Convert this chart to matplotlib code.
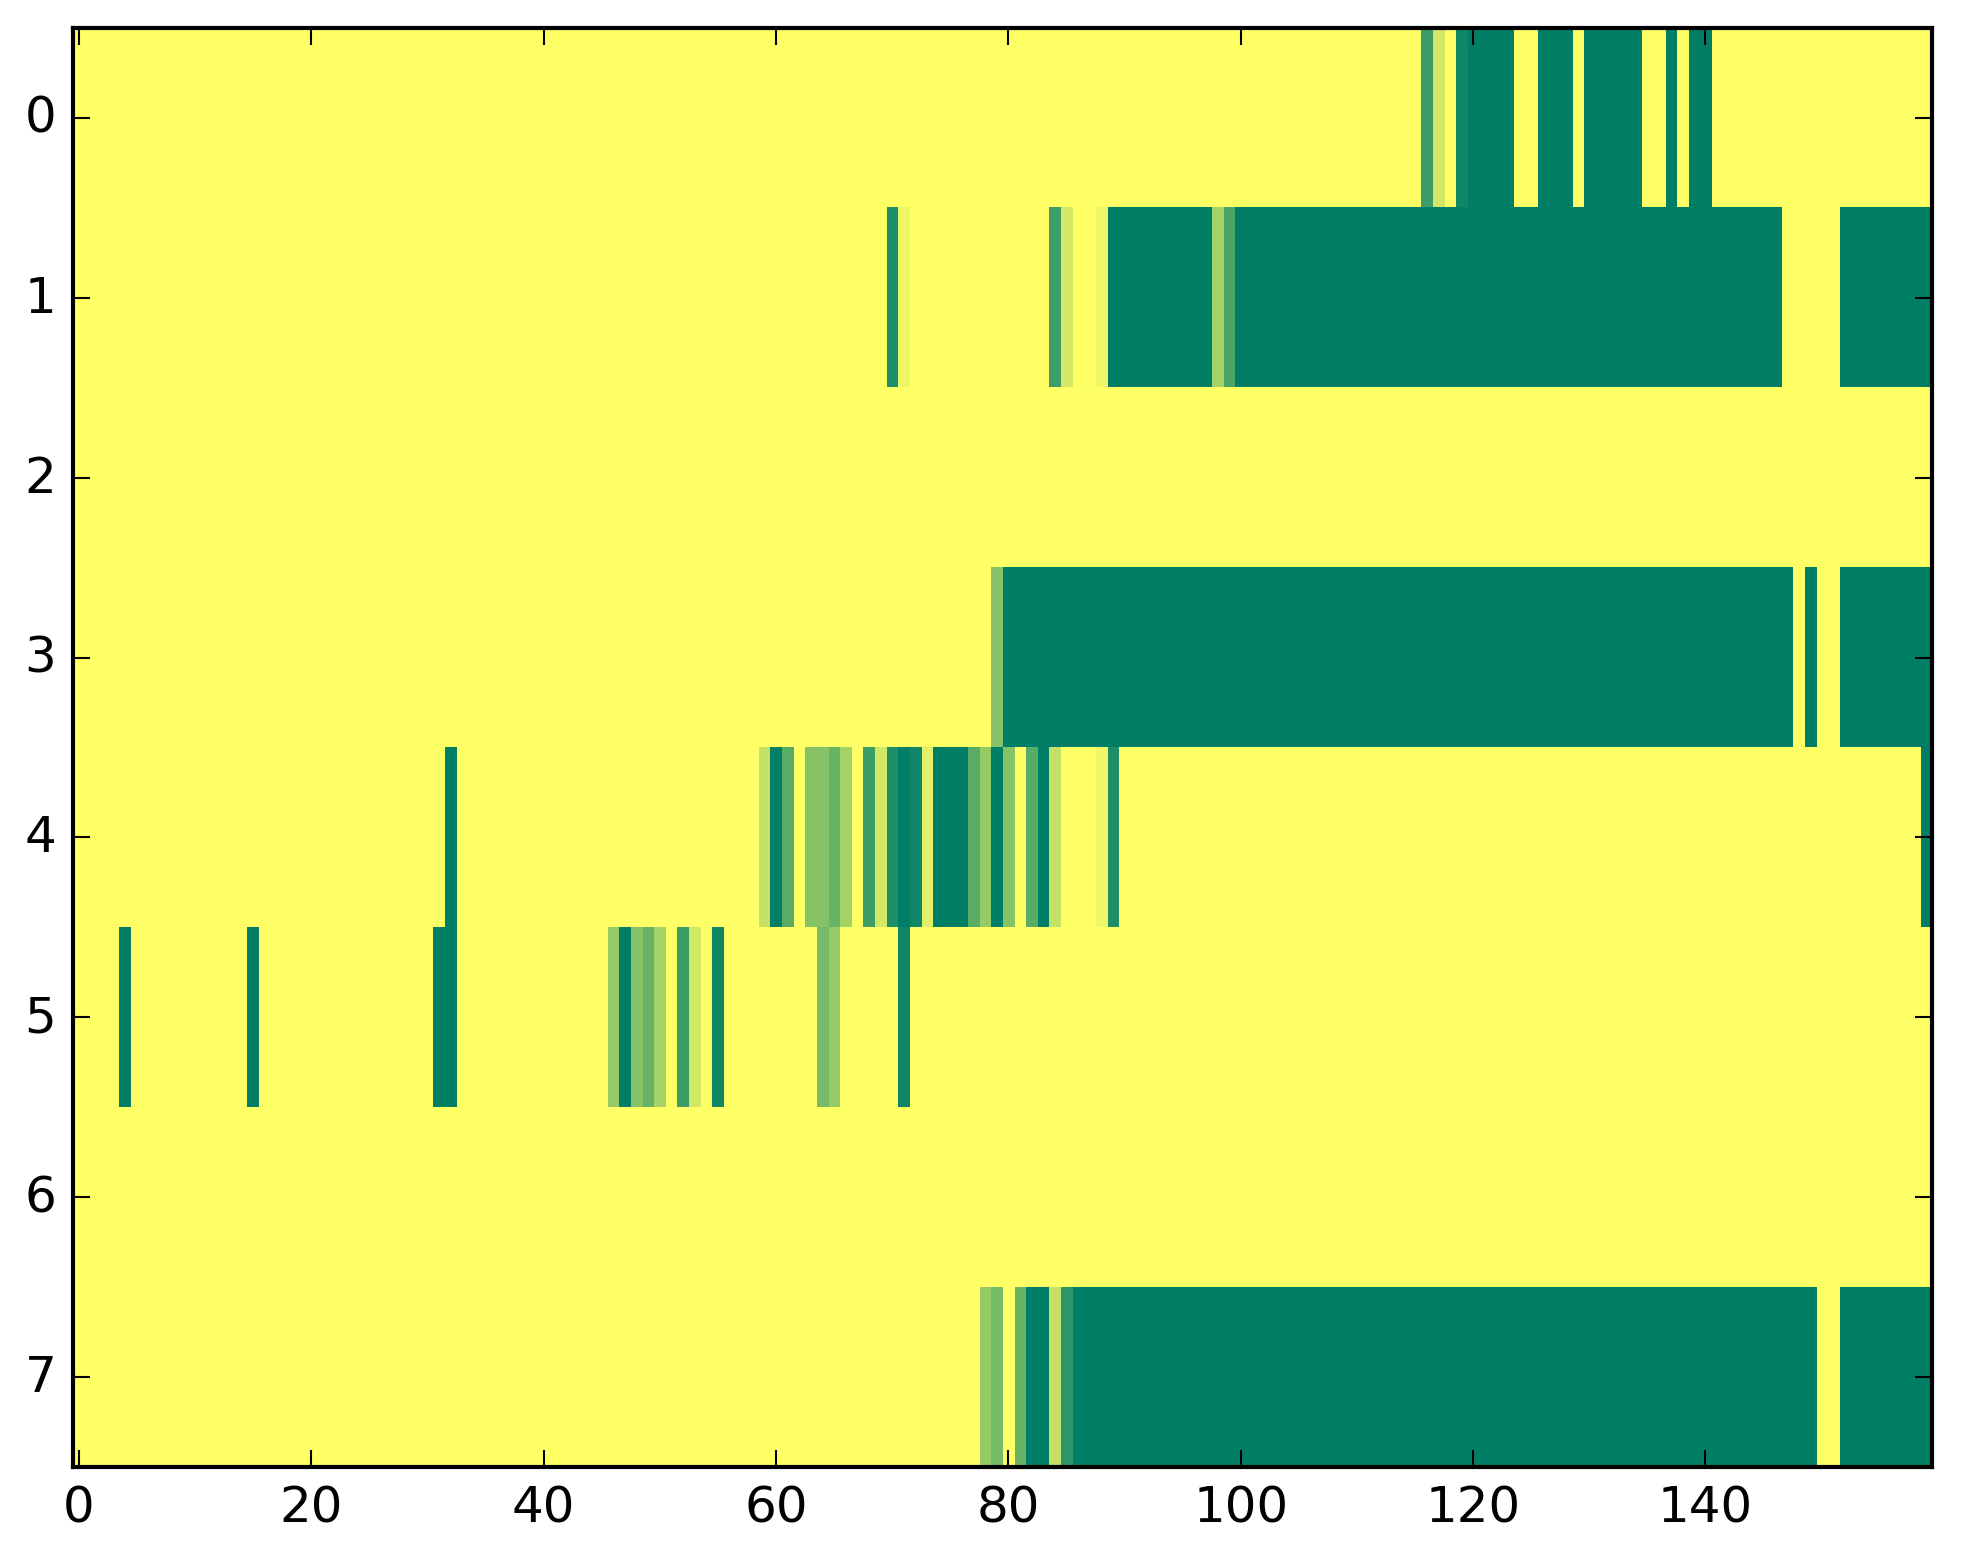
import numpy as np
import matplotlib
matplotlib.use("Agg")
import matplotlib.pyplot as plt

# each character is one cell: count out of 17 in base 18 ('h' = 17 -> 1.0)
digits = "0123456789abcdefgh"
row0 = "0" * 116 + "d30g" + "h" * 4 + "00hhh0hhhhh00h0hh" + "0" * 19
row1 = "0" * 70 + "f1" + "0" * 12 + "d3001" + "h" * 9 + "6c" + "h" * 47 + "0" * 5 + "h" * 8
row2 = "0" * 160
row3 = "0" * 79 + "8" + "h" * 68 + "0h00" + "h" * 8
row4 = "0" * 32 + "h" + "0" * 26 + "4hb088a60d3fhg2hhhb7h80bh40001f" + "0" * 69 + "h"
row5 = "0000h" + "0" * 10 + "h" + "0" * 15 + "hh" + "0" * 13 + "7h8a60d30g" + "0" * 8 + "97" + "0" * 5 + "g" + "0" * 88
row6 = "0" * 160
row7 = "0" * 78 + "790ahh4e" + "h" * 64 + "00" + "h" * 8
rows = [row0, row1, row2, row3, row4, row5, row6, row7]

data = np.array([[digits.index(c) / 17.0 for c in r] for r in rows])

plt.style.use("classic")
fig = plt.figure(figsize=(1963 / 300, 1564 / 300), dpi=300)
ax = fig.add_axes([0.03719, 0.06138, 0.94702, 0.92008])
ax.imshow(data, cmap="summer_r", aspect="auto", interpolation="nearest", vmin=0, vmax=1)
ax.set_xticks([0, 20, 40, 60, 80, 100, 120, 140])
ax.set_yticks(range(8))

fig.savefig("out.png", dpi=300, facecolor="white")
